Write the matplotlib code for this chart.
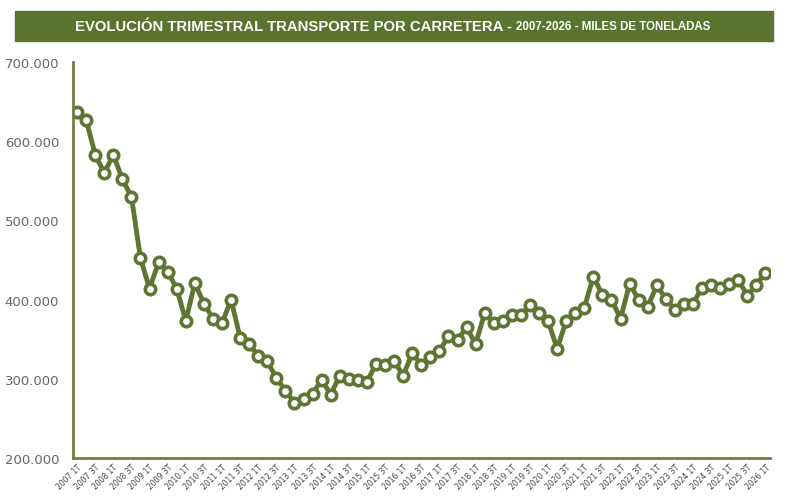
import numpy as np
import matplotlib.pyplot as plt
from matplotlib.ticker import FuncFormatter

# Quarterly road freight, thousands of tonnes
years = list(range(2007, 2027))
quarters = [f"{y} {q}T" for y in years for q in range(1, 5)][:77]

values = [637, 627, 583, 560, 583, 552, 530, 452,
          414, 447, 435, 414, 373, 421, 395, 376,
          370, 400, 352, 344, 329, 322, 301, 285,
          270, 274, 281, 299, 280, 304, 300, 298,
          296, 319, 317, 323, 304, 332, 318, 328,
          335, 354, 349, 365, 344, 383, 370, 373,
          381, 381, 393, 383, 373, 338, 373, 383,
          390, 429, 406, 400, 376, 420, 400, 391,
          418, 401, 387, 395, 395, 415, 418, 415,
          420, 425, 405, 419, 434]
values = [v * 1000 for v in values]

green = "#5f7533"
axis_green = "#6e8040"

fig = plt.figure(figsize=(7.97, 5.02), dpi=100)

# Title banner
fig.patches.append(plt.Rectangle((15 / 797, 1 - 42 / 502), 758 / 797, 30 / 502,
                                 transform=fig.transFigure, color="#5a7430", zorder=0))
t1 = fig.text(75 / 797, 1 - 27 / 502, "EVOLUCIÓN TRIMESTRAL TRANSPORTE POR CARRETERA - ",
              color="white", fontsize=10.7, fontweight="bold", ha="left", va="center",
              family="Liberation Sans")
fig.add_artist(plt.Annotation("2007-2026 - MILES DE TONELADAS", xy=(1, 0.5), xycoords=t1,
                              ha="left", va="center", color="white", fontsize=8.3,
                              fontweight="bold", family="Liberation Sans"))

ax = fig.add_axes([73 / 797, 43 / 502, 697 / 797, 396 / 502])
x = np.arange(len(values))
ax.plot(x, values, color=green, lw=3.5, marker="o", markersize=7.5,
        markerfacecolor="white", markeredgecolor=green, markeredgewidth=2.6)

ax.set_xlim(-0.45, 76.5)
ax.set_ylim(200000, 700000)
ax.set_yticks(range(200000, 700001, 100000))
ax.yaxis.set_major_formatter(FuncFormatter(lambda v, p: f"{int(v):,}".replace(",", ".")))
ax.set_xticks(x[::2])
ax.set_xticklabels(quarters[::2], rotation=45, ha="right", rotation_mode="anchor",
                   fontsize=5.5, color="#444444")
ax.tick_params(axis="both", length=0)
ax.tick_params(axis="y", labelsize=9.5, labelcolor="#666666", pad=10)
ax.tick_params(axis="x", pad=3)

for s in ["top", "right"]:
    ax.spines[s].set_visible(False)
for s in ["left", "bottom"]:
    ax.spines[s].set_color(axis_green)
    ax.spines[s].set_linewidth(2)

fig.savefig("out.png", dpi=100)
